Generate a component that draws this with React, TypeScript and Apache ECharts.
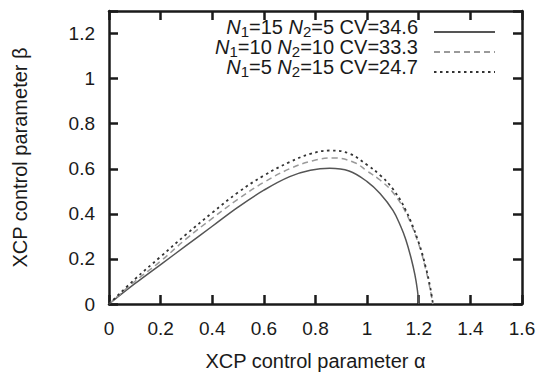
import React, { useEffect, useRef } from "react";
import * as echarts from "echarts";

const alphaA = [0, 0.1, 0.2, 0.3, 0.4, 0.5, 0.6, 0.7, 0.78, 0.855, 0.93, 1.0, 1.05, 1.1, 1.13, 1.15, 1.17, 1.185, 1.195, 1.2];
const betaA = [0, 0.09, 0.175, 0.26, 0.345, 0.43, 0.505, 0.565, 0.593, 0.602, 0.59, 0.543, 0.49, 0.415, 0.345, 0.285, 0.205, 0.13, 0.06, 0];

const alphaB = [0, 0.1, 0.2, 0.3, 0.4, 0.5, 0.6, 0.7, 0.79, 0.87, 0.95, 1.0, 1.05, 1.1, 1.15, 1.2, 1.23, 1.245, 1.255];
const betaB = [0, 0.1, 0.19, 0.29, 0.38, 0.465, 0.54, 0.6, 0.636, 0.648, 0.628, 0.59, 0.55, 0.495, 0.405, 0.265, 0.14, 0.06, 0];

const alphaC = [0, 0.1, 0.2, 0.3, 0.4, 0.5, 0.6, 0.7, 0.78, 0.855, 0.93, 1.0, 1.05, 1.1, 1.15, 1.2, 1.23, 1.245, 1.255];
const betaC = [0, 0.11, 0.21, 0.31, 0.405, 0.495, 0.57, 0.63, 0.666, 0.681, 0.668, 0.617, 0.572, 0.51, 0.415, 0.272, 0.15, 0.07, 0];

const seriesNames = ["N1=15 N2=5 CV=34.6", "N1=10 N2=10 CV=33.3", "N1=5 N2=15 CV=24.7"];
const legendRich = [
  "{i|N}{s|1}=15 {i|N}{s|2}=5 CV=34.6",
  "{i|N}{s|1}=10 {i|N}{s|2}=10 CV=33.3",
  "{i|N}{s|1}=5 {i|N}{s|2}=15 CV=24.7",
];

const xTicks = [0, 0.2, 0.4, 0.6, 0.8, 1, 1.2, 1.4, 1.6];
const yTicks = [0, 0.2, 0.4, 0.6, 0.8, 1, 1.2];

const FONT = "Liberation Sans";

function pairs(xs: number[], ys: number[]) {
  return xs.map((x, i) => [x, ys[i]]);
}

export default function App() {
  const ref = useRef<HTMLDivElement>(null);
  useEffect(() => {
    if (!ref.current) return;
    const chart = echarts.init(ref.current, null, { renderer: "svg" });
    const frame = { show: true, onZero: false, lineStyle: { color: "#1a1a1a", width: 2.5 } };
    const tickIn = { show: true, inside: true, length: 9, lineStyle: { color: "#1a1a1a", width: 2.5 } };
    const fmtX = (v: number) => {
      const r = Math.round(v * 10) / 10;
      return xTicks.includes(r) ? String(r) : "";
    };
    const fmtY = (v: number) => {
      const r = Math.round(v * 10) / 10;
      return yTicks.includes(r) ? String(r) : "";
    };
    const rich = {
      i: { fontStyle: "italic", fontSize: 20, fontFamily: FONT, color: "#1a1a1a" },
      s: { fontSize: 15, fontFamily: FONT, color: "#1a1a1a", verticalAlign: "bottom", lineHeight: 8 },
    };
    const legendTops = [15, 35, 55];
    chart.setOption({
      animation: false,
      backgroundColor: "#ffffff",
      grid: { left: 109, right: 20, top: 11, bottom: 64, containLabel: false },
      legend: seriesNames.map((n, i) => ({
        data: [n],
        orient: "vertical",
        align: "right",
        right: 46,
        top: legendTops[i],
        padding: 0,
        itemWidth: 61,
        itemHeight: 14,
        selectedMode: false,
        itemStyle: { opacity: 0 },
        formatter: () => legendRich[i],
        textStyle: {
          fontSize: 20,
          fontFamily: FONT,
          color: "#1a1a1a",
          lineHeight: 24,
          padding: [0, 11, 10, 0],
          rich,
        },
      })),
      xAxis: [
        {
          type: "value",
          min: 0,
          max: 1.6,
          interval: 0.2,
          position: "bottom",
          axisLine: frame,
          axisTick: tickIn,
          splitLine: { show: false },
          axisLabel: { formatter: fmtX, fontSize: 19, fontFamily: FONT, color: "#1a1a1a", margin: 15 },
          name: "XCP control parameter α",
          nameLocation: "middle",
          nameGap: 47,
          nameTextStyle: { fontSize: 20, fontFamily: FONT, color: "#1a1a1a" },
        },
        {
          type: "value",
          min: 0,
          max: 1.6,
          interval: 0.2,
          position: "top",
          axisLine: frame,
          axisTick: tickIn,
          splitLine: { show: false },
          axisLabel: { show: false },
        },
      ],
      yAxis: [
        {
          type: "value",
          min: 0,
          max: 1.3,
          interval: 0.2,
          position: "left",
          axisLine: frame,
          axisTick: tickIn,
          splitLine: { show: false },
          axisLabel: { formatter: fmtY, fontSize: 19, fontFamily: FONT, color: "#1a1a1a", margin: 14 },
          name: "XCP control parameter β",
          nameLocation: "middle",
          nameGap: 79,
          nameTextStyle: { fontSize: 20, fontFamily: FONT, color: "#1a1a1a" },
        },
        {
          type: "value",
          min: 0,
          max: 1.3,
          interval: 0.2,
          position: "right",
          axisLine: frame,
          axisTick: tickIn,
          splitLine: { show: false },
          axisLabel: { show: false },
        },
      ],
      series: [
        {
          name: seriesNames[0],
          type: "line",
          data: pairs(alphaA, betaA),
          smooth: 0.4,
          showSymbol: false,
          symbol: "none",
          lineStyle: { color: "#555555", width: 1.5, type: "solid" },
          itemStyle: { color: "#555555" },
        },
        {
          name: seriesNames[1],
          type: "line",
          data: pairs(alphaB, betaB),
          smooth: 0.4,
          showSymbol: false,
          symbol: "none",
          lineStyle: { color: "#9a9a9a", width: 1.5, type: [6, 4] },
          itemStyle: { color: "#9a9a9a" },
        },
        {
          name: seriesNames[2],
          type: "line",
          data: pairs(alphaC, betaC),
          smooth: 0.4,
          showSymbol: false,
          symbol: "none",
          lineStyle: { color: "#333333", width: 1.8, type: [2.5, 3.5] },
          itemStyle: { color: "#333333" },
        },
      ],
    });
    return () => chart.dispose();
  }, []);
  return (
    <div
      ref={ref}
      style={{ position: "absolute", left: 0, top: 0, width: 542, height: 376 }}
    />
  );
}
